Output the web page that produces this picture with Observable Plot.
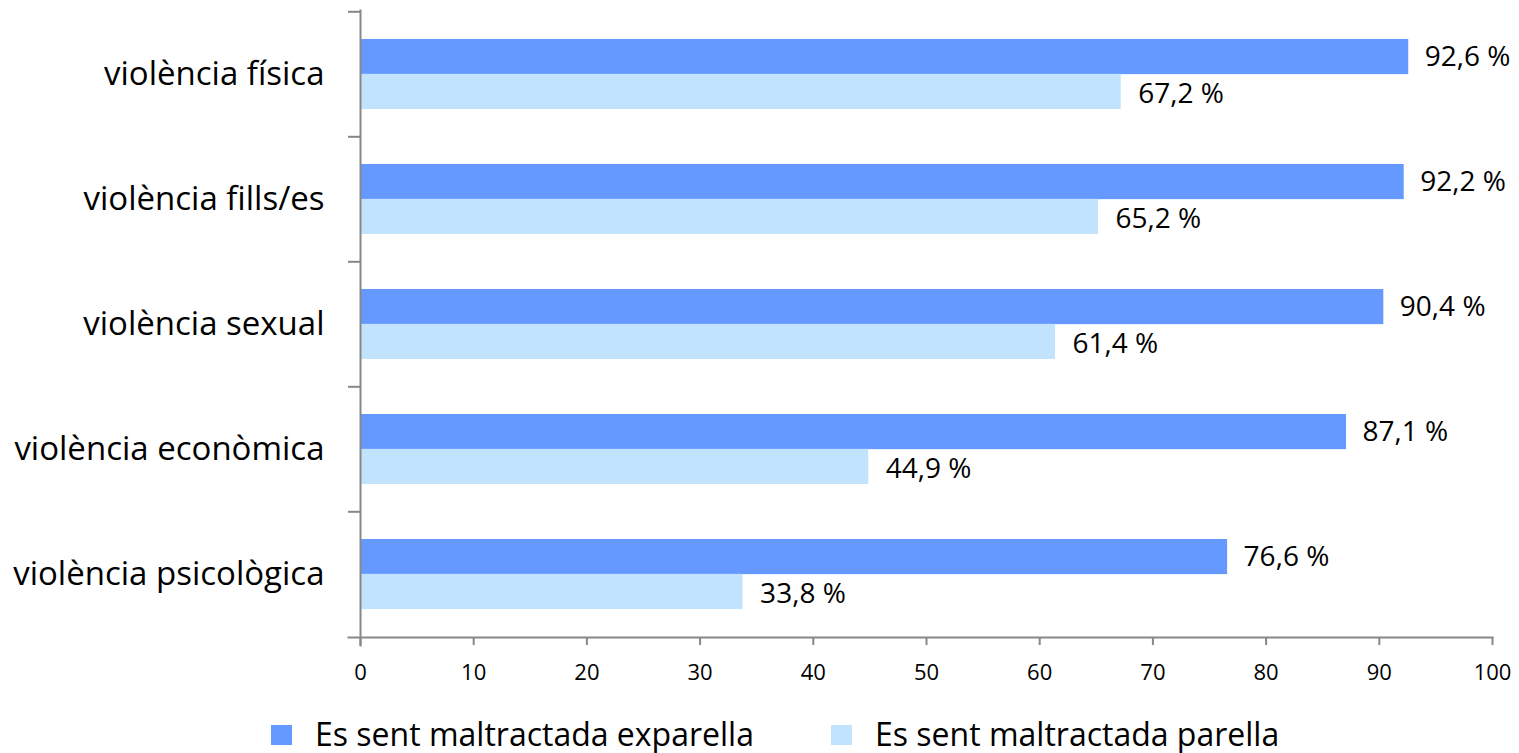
<!DOCTYPE html>
<html>
<head>
<meta charset="utf-8">
<script src="https://cdn.jsdelivr.net/npm/d3@7"></script>
<script src="https://cdn.jsdelivr.net/npm/@observablehq/plot@0.6"></script>
<style>
  html, body { margin: 0; padding: 0; background: #fff; }
  body { width: 1519px; height: 753px; position: relative; overflow: hidden; font-family: "Open Sans", sans-serif; }
  #chart { position: absolute; left: 0; top: 0; }
  .legend-item { position: absolute; top: 718px; display: flex; align-items: center; gap: 23px; font-size: 32px; color: #000; white-space: nowrap; line-height: 32px; height: 32px; }
  .swatch { width: 21px; height: 20px; flex: none; margin-top: 2px; }
</style>
</head>
<body>
<div id="chart"></div>
<div id="legend"></div>
<script>
const categories = ["violència física", "violència fills/es", "violència sexual", "violència econòmica", "violència psicològica"];
const exparella = [92.6, 92.2, 90.4, 87.1, 76.6];
const parella = [67.2, 65.2, 61.4, 44.9, 33.8];
const seriesNames = ["Es sent maltractada exparella", "Es sent maltractada parella"];
const seriesColors = ["#6699FF", "#C2E3FD"];
const xTicks = [0, 10, 20, 30, 40, 50, 60, 70, 80, 90, 100];

const W = 1519, H = 700;
const mL = 360, mR = 27, mT = 10, mB = 63;
const plotW = W - mL - mR, plotH = H - mT - mB;
const pInner = 0.444, pOuter = 0.222;
const step = plotH / (categories.length - pInner + 2 * pOuter);
const bw = step * (1 - pInner);
const axisGray = "#878787";

const exData = categories.map((c, i) => ({category: c, series: seriesNames[0], value: exparella[i]}));
const paData = categories.map((c, i) => ({category: c, series: seriesNames[1], value: parella[i]}));
const fmt = v => v.toFixed(1).replace(".", ",") + " %";

const plot = Plot.plot({
  width: W, height: H,
  marginLeft: mL, marginRight: mR, marginTop: mT, marginBottom: mB,
  style: {fontFamily: "'Open Sans', sans-serif", color: "#000", background: "#fff"},
  x: {domain: [0, 100], label: null},
  y: {domain: categories, paddingInner: pInner, paddingOuter: pOuter, label: null},
  color: {domain: seriesNames, range: seriesColors},
  marks: [
    Plot.barX(exData, {x: "value", y: "category", fill: "series", insetBottom: bw / 2}),
    Plot.barX(paData, {x: "value", y: "category", fill: "series", insetTop: bw / 2}),
    Plot.text(exData, {x: "value", y: "category", text: d => fmt(d.value), dx: 16, dy: -17, textAnchor: "start", fontSize: 28, fill: "#000"}),
    Plot.text(paData, {x: "value", y: "category", text: d => fmt(d.value), dx: 17, dy: 20, textAnchor: "start", fontSize: 28, fill: "#000"}),
    // category boundary ticks on the y axis
    Plot.ruleY(categories, {y: d => d, dy: -step / 2, insetLeft: -12, insetRight: plotW, stroke: axisGray, strokeWidth: 2}),
    // axis lines
    Plot.frame({anchor: "left", stroke: axisGray, strokeWidth: 2, insetBottom: -8}),
    Plot.frame({anchor: "bottom", stroke: axisGray, strokeWidth: 2, insetLeft: -12}),
    Plot.axisX({ticks: xTicks, tickSize: 8, tickPadding: 19, fontSize: 22, stroke: axisGray, strokeWidth: 2, fill: "#000", label: null}),
    Plot.axisY({tickSize: 0, tickPadding: 36, fontSize: 33, fill: "#000", label: null})
  ]
});
document.getElementById("chart").appendChild(plot);

const legendLefts = [271, 831];
const legend = d3.select("#legend");
seriesNames.forEach((name, i) => {
  const item = legend.append("div").attr("class", "legend-item").style("left", legendLefts[i] + "px");
  item.append("div").attr("class", "swatch").style("background", seriesColors[i]);
  item.append("span").text(name);
});
</script>
</body>
</html>
